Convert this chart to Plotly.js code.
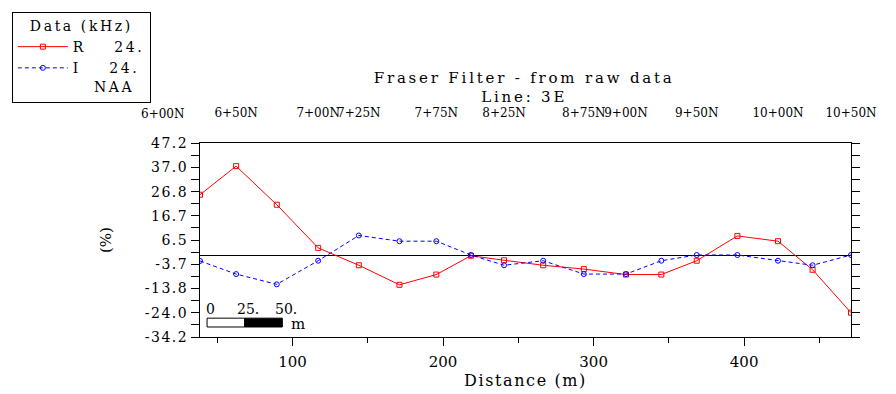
<!DOCTYPE html>
<html>
<head>
<meta charset="utf-8">
<script src="https://cdn.plot.ly/plotly-3.0.1.min.js"></script>
<style>
html,body{margin:0;padding:0;background:#fff;}
#chart{width:896px;height:394px;}
.gtitle{letter-spacing:2.8px;}
.legendtext,.legendtitletext{letter-spacing:2.6px;}
.ytick text{letter-spacing:1.5px;}
.xtitle{letter-spacing:1.6px;}
</style>
</head>
<body>
<div id="chart"></div>
<script>
// Distance along the line (m)
const distance = [38.5, 62.5, 89.5, 117, 144, 171, 195.5, 218.5, 240.5, 266.5, 293.5, 321.5, 345, 368.5, 395.5, 422.5, 445.5, 471];
// Fraser-filtered in-phase (R) and quadrature (I), %
const realR = [25.5, 37.5, 21.3, 3.2, -4.1, -12.3, -8.0, -0.1, -2.0, -4.1, -5.7, -8.0, -8.0, -2.2, 8.2, 6.0, -6.0, -24.0];
const imagI = [-2.3, -7.8, -12.1, -2.2, 8.4, 6.0, 6.0, 0.2, -4.1, -2.2, -7.8, -7.8, -2.2, 0.2, 0.2, -2.2, -4.1, 0.2];
// Station labels along the top
const stationDist = [62.5, 117, 144, 195.5, 240.5, 293.5, 321.5, 368.5, 422.5, 471];
const stationLabels = ["6+50N", "7+00N", "7+25N", "7+75N", "8+25N", "8+75N", "9+00N", "9+50N", "10+00N", "10+50N"];
const firstStationLabel = "6+00N";
// Y ticks
const yTickVals = [-34.2, -24.0, -13.8, -3.7, 6.5, 16.7, 26.8, 37.0, 47.2];
const yTickText = ["-34.2", "-24.0", "-13.8", "-3.7", "6.5", "16.7", "26.8", "37.0", "47.2"];
// Scale bar labels
const scaleLabels = ["0", "25.", "50."];

const FONT = "DejaVu Serif";

const traces = [
  {
    x: distance, y: realR, name: "R    24.", type: "scatter", mode: "lines+markers",
    line: {color: "#ff0000", width: 1},
    marker: {symbol: "square-open", size: 5, color: "#ff0000", line: {width: 1}},
    xaxis: "x", yaxis: "y"
  },
  {
    x: distance, y: imagI, name: "I    24.<br>   NAA", type: "scatter", mode: "lines+markers",
    line: {color: "#0000ff", width: 1, dash: "4px,3px"},
    marker: {symbol: "circle-open", size: 5, color: "#0000ff", line: {width: 1}},
    xaxis: "x", yaxis: "y"
  },
  {
    x: [distance[0], distance[distance.length - 1]], y: [null, null], xaxis: "x2", yaxis: "y",
    showlegend: false, hoverinfo: "skip", mode: "lines"
  }
];

const xmin = distance[0], xmax = distance[distance.length - 1];

const layout = {
  width: 896, height: 394,
  margin: {l: 197, r: 45, t: 141, b: 57},
  paper_bgcolor: "#fff", plot_bgcolor: "#fff",
  font: {family: FONT, color: "#000", size: 14},
  title: {
    text: "Fraser Filter - from raw data<br>Line: 3E",
    x: 0.585, xanchor: "center", y: 0.79, yanchor: "top",
    font: {family: FONT, size: 15, color: "#000"}
  },
  showlegend: true,
  legend: {
    x: -0.289, y: 1.676, xanchor: "left", yanchor: "top",
    bgcolor: "#fff", bordercolor: "#000", borderwidth: 1,
    font: {family: FONT, size: 14, color: "#000"},
    title: {text: "Data (kHz)", side: "top center", font: {family: FONT, size: 14}},
    valign: "top", itemwidth: 50, tracegroupgap: 0
  },
  xaxis: {
    range: [xmin, xmax], showgrid: false, zeroline: false,
    showline: true, linecolor: "#000", linewidth: 1, mirror: true,
    tickmode: "linear", tick0: 0, dtick: 100,
    ticks: "outside", ticklen: 8, tickcolor: "#000", tickwidth: 1,
    minor: {tickmode: "linear", tick0: 0, dtick: 50, ticks: "outside", ticklen: 5, tickcolor: "#000"},
    tickfont: {family: FONT, size: 15}, ticklabelstandoff: 3,
    title: {text: "Distance (m)", font: {family: FONT, size: 16}, standoff: 4}
  },
  xaxis2: {
    overlaying: "x", matches: "x", side: "top", anchor: "y",
    range: [xmin, xmax], showgrid: false, zeroline: false, showline: false,
    tickmode: "array", tickvals: stationDist, ticktext: stationLabels, tickangle: 0,
    ticks: "outside", ticklen: 20, tickcolor: "rgba(0,0,0,0)",
    tickfont: {family: FONT, size: 12}
  },
  yaxis: {
    range: [-34.2, 47.2], showgrid: false,
    zeroline: true, zerolinecolor: "#000", zerolinewidth: 1,
    showline: true, linecolor: "#000", linewidth: 1, mirror: "ticks",
    tickmode: "array", tickvals: yTickVals, ticktext: yTickText,
    ticks: "outside", ticklen: 8, tickcolor: "#000", tickwidth: 1,
    minor: {tickmode: "linear", tick0: -29.1125, dtick: 10.175, ticks: "outside", ticklen: 8, tickcolor: "#000"},
    tickfont: {family: FONT, size: 14},
    title: {text: "(%)", font: {family: FONT, size: 15}, standoff: 29}
  },
  shapes: [
    {type: "rect", xref: "x", yref: "y", x0: 43.2, x1: 68.2, y0: -30.0, y1: -26.3, fillcolor: "#fff", line: {color: "#000", width: 1}},
    {type: "rect", xref: "x", yref: "y", x0: 68.2, x1: 93.2, y0: -30.0, y1: -26.3, fillcolor: "#000", line: {color: "#000", width: 1}}
  ],
  annotations: [
    {xref: "paper", yref: "paper", x: -0.057, y: 1.148, text: firstStationLabel, showarrow: false,
     xanchor: "center", yanchor: "middle", font: {family: FONT, size: 12}},
    {xref: "x", yref: "y", x: 45.2, y: -22.3, text: scaleLabels[0], showarrow: false, font: {family: FONT, size: 14}},
    {xref: "x", yref: "y", x: 70.5, y: -22.3, text: scaleLabels[1], showarrow: false, font: {family: FONT, size: 14}},
    {xref: "x", yref: "y", x: 95.5, y: -22.3, text: scaleLabels[2], showarrow: false, font: {family: FONT, size: 14}},
    {xref: "x", yref: "y", x: 103.5, y: -28.8, text: "m", showarrow: false, font: {family: FONT, size: 15}}
  ]
};

Plotly.newPlot("chart", traces, layout, {staticPlot: true, displayModeBar: false});
</script>
</body>
</html>
